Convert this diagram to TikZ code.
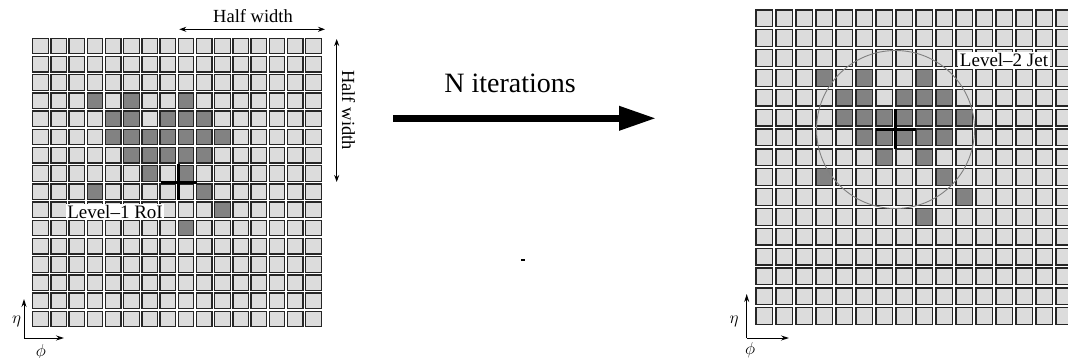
\documentclass[tikz,border=0pt]{standalone}
\usepackage{fontspec}
\setmainfont{Liberation Serif}
\usetikzlibrary{arrows.meta}
\definecolor{celllight}{HTML}{DCDCDC}
\definecolor{celldark}{HTML}{828282}
\definecolor{cellline}{HTML}{262626}
\tikzset{
  cellbox/.style={draw=cellline, line width=1.3pt, fill=celllight},
  darkbox/.style={draw=cellline, line width=1.3pt, fill=celldark},
  crossline/.style={line width=3.4pt, draw=black},
  dimarrow/.style={line width=0.9pt, {Stealth[length=7pt,width=5pt]}-{Stealth[length=7pt,width=5pt]}},
  axisarrow/.style={line width=0.9pt, -{Stealth[length=8pt,width=5pt]}},
  bigarrow/.style={line width=6.7pt, -{Triangle[length=37pt,width=23pt]}},
  lbl/.style={font=\fontsize{19}{22}\selectfont, fill=white, inner sep=1.5pt},
  dimlbl/.style={font=\fontsize{18.5}{22}\selectfont, inner sep=0pt},
  greek/.style={font=\fontsize{19}{22}\selectfont, inner sep=0pt},
}
\begin{document}
\begin{tikzpicture}[x=1pt,y=-1pt]
\useasboundingbox (0,0) rectangle (1068,358);
\clip (0,0) rectangle (1068,358);
% ---------- left grid ----------
\def\darklist{3/3,5/3,8/3,4/4,5/4,7/4,8/4,9/4,4/5,5/5,6/5,7/5,8/5,9/5,10/5,5/6,6/6,7/6,8/6,9/6,6/7,8/7,3/8,9/8,10/9,8/10}
\foreach \c in {0,...,15}{
  \foreach \r in {0,...,15}{
    \draw[cellbox] ({32.7+18.2*\c},{38.3+18.2*\r}) rectangle ++(15.5,15.5);
  }
}
\foreach \c/\r in \darklist{
  \draw[darkbox] ({32.7+18.2*\c},{38.3+18.2*\r}) rectangle ++(15.5,15.5);
}
\coordinate (lc) at (178.5,182.5);
\draw[crossline] ([xshift=-18pt]lc) -- ([xshift=18pt]lc);
\draw[crossline] ([yshift=18pt]lc) -- ([yshift=-18pt]lc);
\node[lbl] (roi) at (115,212) {Level--1 RoI};
% half width arrows
\coordinate (hwa) at (179.3,29.3);
\coordinate (hwb) at (325,29.3);
\draw[dimarrow] (hwa) -- (hwb);
\node[dimlbl] (hwt) at (253,16.5) {Half width};
\coordinate (hva) at (336.7,39);
\coordinate (hvb) at (336.7,182);
\draw[dimarrow] (hva) -- (hvb);
\node[dimlbl, rotate=-90] (hvt) at (348.5,110) {Half width};
% axes left
\coordinate (lo) at (24,338);
\coordinate (le) at (24,299);
\coordinate (lp) at (64,338);
\draw[axisarrow] (lo) -- (le);
\draw[axisarrow] (lo) -- (lp);
\node[greek] (leta) at (16.5,321) {$\eta$};
\node[greek] (lphi) at (41,352) {$\phi$};
% ---------- arrow ----------
\coordinate (ita) at (393,118.3);
\coordinate (itb) at (656,118.3);
\draw[bigarrow] (ita) -- (itb);
\node[font=\fontsize{28}{32}\selectfont, inner sep=0pt] (iter) at (510,83) {N iterations};
\fill (521,259) rectangle (525,261);
% ---------- right grid ----------
\foreach \c in {0,...,15}{
  \foreach \r in {0,...,15}{
    \draw[cellbox] ({756+20*\c},{10+19.85*\r}) rectangle ++(16.7,16.7);
  }
}
\foreach \c/\r in \darklist{
  \draw[darkbox] ({756+20*\c},{10+19.85*\r}) rectangle ++(16.7,16.7);
}
\coordinate (rc) at (895.5,129.5);
\draw[gray, line width=0.9pt] (rc) circle (79);
\draw[crossline] ([xshift=-20pt]rc) -- ([xshift=20pt]rc);
\draw[crossline] ([yshift=20pt]rc) -- ([yshift=-20pt]rc);
\node[lbl] (jet) at (1004,60) {Level--2 Jet};
% axes right
\coordinate (ro) at (746.7,338);
\coordinate (re) at (746.7,294);
\coordinate (rp) at (789,338);
\draw[axisarrow] (ro) -- (re);
\draw[axisarrow] (ro) -- (rp);
\node[greek] (reta) at (734,321) {$\eta$};
\node[greek] (rphi) at (750,350) {$\phi$};
\end{tikzpicture}
\end{document}
